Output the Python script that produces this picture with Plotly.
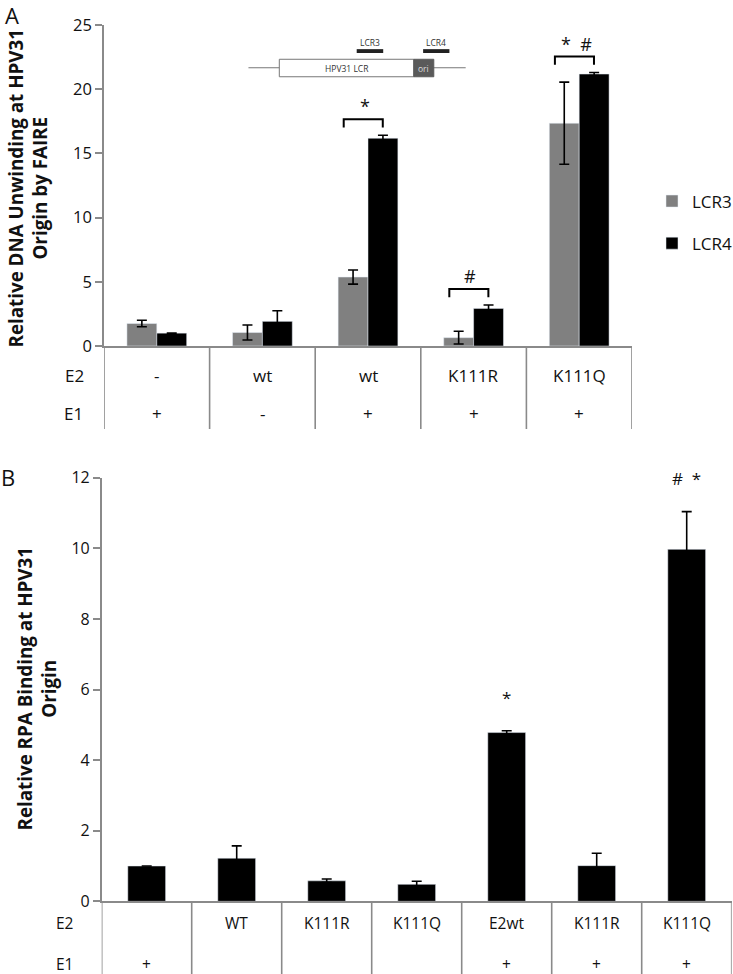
import plotly.graph_objects as go

# ---------------- Panel A data ----------------
a_e2 = ["-", "wt", "wt", "K111R", "K111Q"]
a_e1 = ["+", "-", "+", "+", "+"]
lcr3_vals = [1.75, 1.05, 5.37, 0.65, 17.35]
lcr3_err = [0.25, 0.58, 0.55, 0.50, 3.20]
lcr4_vals = [1.0, 1.92, 16.18, 2.93, 21.18]
lcr4_err = [0.0, 0.83, 0.23, 0.26, 0.12]
a_sig = ["", "", "*", "#", "*  #"]
a_ticks = [0, 5, 10, 15, 20, 25]

# ---------------- Panel B data ----------------
b_e2 = ["", "WT", "K111R", "K111Q", "E2wt", "K111R", "K111Q"]
b_e1 = ["+", "", "", "", "+", "+", "+"]
rpa_vals = [1.0, 1.22, 0.58, 0.48, 4.78, 1.01, 9.97]
rpa_err = [0.0, 0.35, 0.05, 0.09, 0.05, 0.35, 1.07]
b_sig = ["", "", "", "", "*", "", "#  *"]
b_ticks = [0, 2, 4, 6, 8, 10, 12]

FONT = "Open Sans"
AXC = "#8a8a8a"
GRAY = "#808080"
TXT = "#111"

xa = list(range(len(a_e2)))
xb = list(range(len(b_e2)))

fig = go.Figure()
wA = 0.283
fig.add_trace(go.Bar(x=xa, y=lcr3_vals, width=wA, offset=-wA, marker_color=GRAY,
                     name="LCR3", legendgroup="g1", xaxis="x", yaxis="y",
                     error_y=dict(type="data", array=lcr3_err, visible=True, color="black",
                                  thickness=1.6, width=5)))
fig.add_trace(go.Bar(x=xa, y=lcr4_vals, width=wA, offset=0, marker_color="black",
                     name="LCR4", legendgroup="g2", xaxis="x", yaxis="y",
                     error_y=dict(type="data", array=lcr4_err, visible=True, color="black",
                                  thickness=1.6, width=5)))
wB = 0.42
fig.add_trace(go.Bar(x=xb, y=rpa_vals, width=wB, offset=-wB / 2, marker_color="black",
                     showlegend=False, xaxis="x2", yaxis="y2",
                     error_y=dict(type="data", array=rpa_err, visible=True, color="black",
                                  thickness=1.6, width=5)))

H, W = 974, 733
A_top, A_bot = 1 - 25 / H, 1 - 346 / H
A_tab = 1 - 429 / H
B_top, B_bot = 1 - 477.7 / H, 1 - 901.3 / H

shapes = []
annotations = []


def ann(**kw):
    kw.setdefault("showarrow", False)
    kw.setdefault("xanchor", "center")
    kw.setdefault("yanchor", "middle")
    annotations.append(kw)


# table dividers
for i in range(len(a_e2) + 1):
    shapes.append(dict(type="line", xref="x", yref="paper", x0=i - 0.5, x1=i - 0.5,
                       y0=A_bot, y1=A_tab, line=dict(color=AXC, width=1.6)))
for i in range(len(b_e2) + 1):
    shapes.append(dict(type="line", xref="x2", yref="paper", x0=i - 0.5, x1=i - 0.5,
                       y0=B_bot, y1=0, line=dict(color=AXC, width=1.6)))

# table texts
for i, (e2, e1) in enumerate(zip(a_e2, a_e1)):
    ann(x=i, y=1 - 376 / H, xref="x", yref="paper", text=e2, font=dict(size=17, color=TXT))
    ann(x=i, y=1 - 413 / H, xref="x", yref="paper", text=e1, font=dict(size=17, color=TXT))
for i, (e2, e1) in enumerate(zip(b_e2, b_e1)):
    ann(x=i, y=1 - 922.5 / H, xref="x2", yref="paper", text=e2, font=dict(size=15.5, color=TXT))
    ann(x=i, y=1 - 964 / H, xref="x2", yref="paper", text=e1, font=dict(size=15.5, color=TXT))
for lab, xp, yp in [("E2", 74, 376), ("E1", 73, 413)]:
    ann(x=xp / W, y=1 - yp / H, xref="paper", yref="paper", text=lab,
        font=dict(size=17, color=TXT))
for lab, xp, yp in [("E2", 64.5, 922.5), ("E1", 64, 964)]:
    ann(x=xp / W, y=1 - yp / H, xref="paper", yref="paper", text=lab,
        font=dict(size=15.5, color=TXT))

# significance brackets panel A
for i, s in enumerate(a_sig):
    if not s:
        continue
    top = max(lcr3_vals[i] + lcr3_err[i], lcr4_vals[i] + lcr4_err[i]) + 1.25
    xl, xr = i - 0.23, i + 0.14
    shapes.append(dict(type="path", xref="x", yref="y",
                       path=f"M {xl},{top - 0.65} L {xl},{top} L {xr},{top} L {xr},{top - 0.65}",
                       line=dict(color="black", width=2)))
    ann(x=i - 0.03, y=top + 1.0, xref="x", yref="y", text=s, font=dict(size=18, color=TXT))

# significance panel B
for i, s in enumerate(b_sig):
    if not s:
        continue
    ann(x=i, y=rpa_vals[i] + rpa_err[i] + 0.95, xref="x2", yref="y2", text=s,
        font=dict(size=17, color=TXT))

# LCR diagram (panel A, decoration)
shapes.append(dict(type="line", xref="x", yref="y", x0=0.868, x1=2.925, y0=21.67, y1=21.67,
                   line=dict(color="#777", width=1)))
shapes.append(dict(type="rect", xref="x", yref="y", x0=1.16, x1=2.434, y0=20.97, y1=22.33,
                   fillcolor="white", line=dict(color="#777", width=1)))
shapes.append(dict(type="rect", xref="x", yref="y", x0=2.434, x1=2.623, y0=20.97, y1=22.33,
                   fillcolor="#5a5a5a", line=dict(color="#5a5a5a", width=1)))
shapes.append(dict(type="rect", xref="x", yref="y", x0=1.893, x1=2.144, y0=22.82, y1=23.12,
                   fillcolor="#222", line=dict(width=0)))
shapes.append(dict(type="rect", xref="x", yref="y", x0=2.522, x1=2.771, y0=22.82, y1=23.12,
                   fillcolor="#222", line=dict(width=0)))
ann(x=1.797, y=21.65, xref="x", yref="y", text="HPV31 LCR", font=dict(size=8.5, color="#333"))
ann(x=2.528, y=21.65, xref="x", yref="y", text="ori", font=dict(size=8.5, color="#ddd"))
ann(x=2.019, y=23.6, xref="x", yref="y", text="LCR3", font=dict(size=8.5, color="#333"))
ann(x=2.646, y=23.6, xref="x", yref="y", text="LCR4", font=dict(size=8.5, color="#333"))

# panel letters and y titles
ann(x=12 / W, y=1 - 15 / H, xref="paper", yref="paper", text="A", font=dict(size=22, color=TXT))
ann(x=8 / W, y=1 - 477 / H, xref="paper", yref="paper", text="B", font=dict(size=22, color=TXT))
ann(x=27 / W, y=1 - 188.5 / H, xref="paper", yref="paper",
    text="<b>Relative DNA Unwinding at HPV31<br>Origin by FAIRE</b>", textangle=-90,
    font=dict(size=18.8, color=TXT))
ann(x=36 / W, y=1 - 688.5 / H, xref="paper", yref="paper",
    text="<b>Relative RPA Binding at HPV31<br>Origin</b>", textangle=-90,
    font=dict(size=18.8, color=TXT))

axis_common = dict(showgrid=False, zeroline=False, showline=True, linecolor=AXC, linewidth=1.6,
                   automargin=False)

fig.update_layout(
    width=W, height=H,
    margin=dict(l=0, r=0, t=0, b=0, autoexpand=False),
    paper_bgcolor="white", plot_bgcolor="white",
    barmode="overlay",
    font=dict(family=FONT, color=TXT),
    xaxis=dict(domain=[104 / W, 632 / W], range=[-0.5, len(a_e2) - 0.5], anchor="y",
               showticklabels=False, ticks="", **axis_common),
    yaxis=dict(domain=[A_bot, A_top], range=[0, 25], anchor="x", tickvals=a_ticks,
               ticks="outside", ticklen=7, tickcolor=AXC, tickwidth=1.6,
               tickfont=dict(size=16.5, color=TXT), **axis_common),
    xaxis2=dict(domain=[101.7 / W, 731.7 / W], range=[-0.5, len(b_e2) - 0.5], anchor="y2",
                showticklabels=False, ticks="", **axis_common),
    yaxis2=dict(domain=[B_bot, B_top], range=[0, 12], anchor="x2", tickvals=b_ticks,
                ticks="outside", ticklen=7, tickcolor=AXC, tickwidth=1.6,
                tickfont=dict(size=16, color=TXT), **axis_common),
    legend=dict(x=652 / W, y=1 - 183.5 / H, xanchor="left", yanchor="top",
                font=dict(size=17, color=TXT), traceorder="grouped", tracegroupgap=17,
                bgcolor="rgba(0,0,0,0)"),
    shapes=shapes,
    annotations=annotations,
)

fig.write_html("out.html", config={"displayModeBar": False},
               post_script="document.body.style.margin='0';document.body.style.overflow='hidden';")
